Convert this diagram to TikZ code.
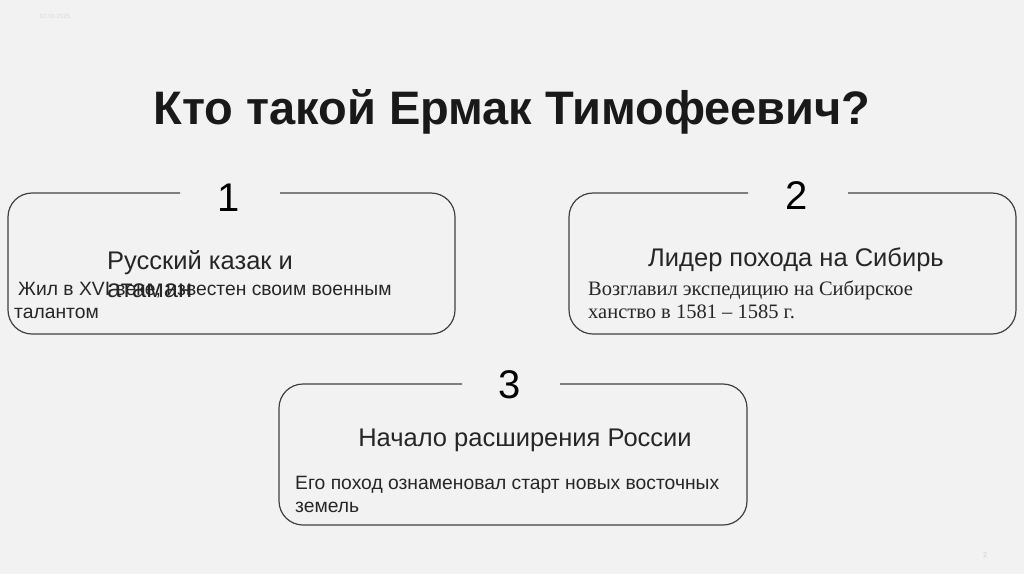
\documentclass[tikz,border=0pt]{standalone}
\usepackage{fontspec}
\setmainfont{Liberation Sans}
\newfontfamily\serifru{Liberation Serif}
\begin{document}
\begin{tikzpicture}[x=1pt,y=-1pt,
  box/.style={draw=black!75,line width=1.2pt,rounded corners=24pt},
  num/.style={font=\fontsize{40}{42}\selectfont},
  head/.style={font=\fontsize{25.5}{28}\selectfont,text=black!85},
  body/.style={font=\fontsize{19.3}{23}\selectfont,text=black!85,anchor=base west,inner sep=0}]
\fill[black!5] (0,0) rectangle (1024,574);
\useasboundingbox (0,0) rectangle (1024,574);
\node[text=black!15,font=\fontsize{6}{7}\selectfont] (date) at (55,16) {02.09.2025};
\node[font=\bfseries\fontsize{47}{50}\selectfont,text=black!90] (title) at (512,112) {Кто такой Ермак Тимофеевич?};
% box 1
\draw[box] (180,193) -- (8,193) -- (8,334) -- (455,334) -- (455,193) -- (280,193);
\node[num] (n1) at (229,198) {1};
\node[head,anchor=base west,inner sep=0,align=left] (h1) at (107,297) {Русский казак и\\атаман};
\node[body] (b1) at (18,295) {Жил в XVI веке, известен своим военным};
\node[body] (b1b) at (14,318) {талантом};
% box 2
\draw[box] (748,193) -- (569,193) -- (569,334) -- (1016,334) -- (1016,193) -- (848,193);
\node[num] (n2) at (797,196) {2};
\node[head] (h2) at (796,260) {Лидер похода на Сибирь};
\node[body,font=\serifru\fontsize{20.5}{23}\selectfont] (b2) at (588,295) {Возглавил экспедицию на Сибирское};
\node[body,font=\serifru\fontsize{20.5}{23}\selectfont] (b2b) at (588,318) {ханство в 1581 – 1585 г.};
% box 3
\draw[box] (462,384) -- (279,384) -- (279,525) -- (747,525) -- (747,384) -- (560,384);
\node[num] (n3) at (510,385) {3};
\node[head] (h3) at (525,440) {Начало расширения России};
\node[body] (b3) at (295,489) {Его поход ознаменовал старт новых восточных};
\node[body] (b3b) at (295,512) {земель};
\node[text=black!20,font=\fontsize{7}{8}\selectfont] (pg) at (985,555) {2};
\end{tikzpicture}
\end{document}
